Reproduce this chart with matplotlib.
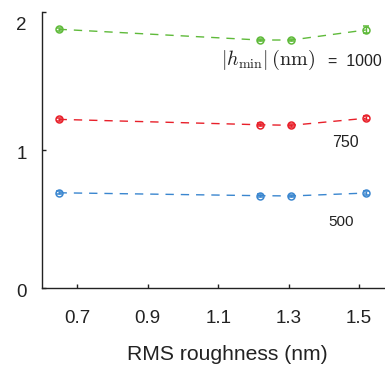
import matplotlib
matplotlib.use("Agg")
import matplotlib.pyplot as plt
from matplotlib.transforms import ScaledTranslation

plt.rcParams['font.family'] = ['Liberation Sans', 'DejaVu Sans']
plt.rcParams['mathtext.fontset'] = 'cm'

roughness = [0.647, 1.218, 1.308, 1.519]
h_1000 = [1.875, 1.797, 1.797, 1.870]
h_750 = [1.222, 1.183, 1.179, 1.230]
h_500 = [0.690, 0.669, 0.667, 0.688]
err_1000 = [0.012, 0.010, 0.010, 0.025]
err_750 = [0.010, 0.010, 0.010, 0.015]
err_500 = [0.010, 0.010, 0.010, 0.012]

series = [
    (h_1000, err_1000, '#5fba3a'),
    (h_750, err_750, '#e8202a'),
    (h_500, err_500, '#3a86cf'),
]

xticks = [0.7, 0.9, 1.1, 1.3, 1.5]
yticks = [0, 1, 2]

W, H = 385, 367
fig = plt.figure(figsize=(W / 100, H / 100), dpi=100)
# the axes run a little past the right edge of the figure
ax = fig.add_axes([42 / W, 1 - 288 / H, (412 - 42) / W, (288 - 12) / H])

for vals, err, col in series:
    ax.plot(roughness, vals, ls=(0, (6, 5)), color=col, lw=1.0)
    ax.errorbar(roughness, vals, yerr=err, fmt='o', mfc='none', mec=col,
                ecolor=col, ms=5, mew=1.1, elinewidth=1.0, capsize=2.5,
                capthick=1.0)

ax.set_xlim(0.6, 1.65)
ax.set_ylim(0, 2)
ax.set_xticks(xticks)
ax.set_xticklabels([f'{t:.1f}' for t in xticks])
ax.set_yticks(yticks)
ax.tick_params(direction='in', length=3, width=1.0, labelsize=13.5, colors='#222222')
ax.tick_params(axis='x', pad=15.5)
ax.tick_params(axis='y', pad=11)
for s in ['top', 'right']:
    ax.spines[s].set_visible(False)
for s in ['left', 'bottom']:
    ax.spines[s].set_linewidth(1.0)
    ax.spines[s].set_color('#222222')

# nudge the y tick labels down a little, the top one more so it stays inside
fig.canvas.draw()
for lab in ax.get_yticklabels():
    dy = -8 if lab.get_text() == '2' else -2
    lab.set_transform(lab.get_transform() + ScaledTranslation(0, dy / 72, fig.dpi_scale_trans))

ax.set_xlabel('RMS roughness (nm)', fontsize=15.2, labelpad=13, color='#222222')

ax.text(1.374, 1.655, r'$|h_{\min}|\,(\mathrm{nm})$', fontsize=14.5, ha='right',
        va='center', color='#222222')
ax.text(1.411, 1.64, '=  1000', fontsize=11.5, ha='left', va='center', color='#222222')
ax.text(1.461, 1.051, '750', fontsize=11.5, ha='center', va='center', color='#222222')
ax.text(1.448, 0.478, '500', fontsize=11, ha='center', va='center', color='#222222')

fig.savefig('out.png', dpi=100)
